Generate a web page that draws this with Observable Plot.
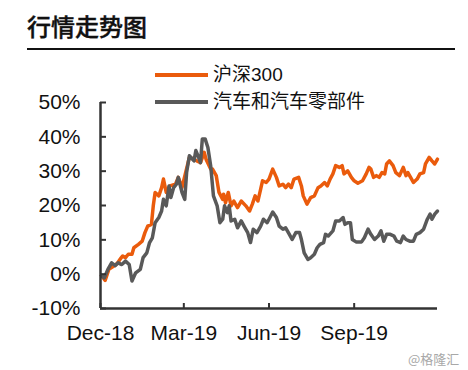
<!DOCTYPE html>
<html><head><meta charset="utf-8">
<script src="https://cdn.jsdelivr.net/npm/d3@7"></script>
<script src="https://cdn.jsdelivr.net/npm/@observablehq/plot@0.6"></script>
<style>
body{margin:0;background:#fff;}
#wrap{position:relative;width:468px;height:370px;overflow:hidden;background:#fff;}
#header{position:relative;width:468px;height:56px;}
#title{position:absolute;left:27px;top:9px;font:500 24px/34px "Noto Sans CJK SC",sans-serif;color:#111;-webkit-text-stroke:0.4px #111;}
#hrule{position:absolute;left:27px;top:48px;width:428px;height:2px;background:#111;}
.lg{position:absolute;left:155px;height:24px;display:flex;align-items:center;font:19px/24px "Liberation Sans","Noto Sans CJK SC",sans-serif;color:#111;white-space:nowrap;}
.lg span.sw{display:inline-block;width:53px;height:3.5px;margin-right:5px;}
#wm{position:absolute;left:408px;top:350px;font:13px/18px "Noto Sans CJK SC",sans-serif;color:#a8a8a8;}
</style>
</head><body>
<div id="wrap">
  <div id="header"><div id="title">行情走势图</div><div id="hrule"></div></div>
  <div id="chart"></div>
  <div class="lg" id="lg1" style="top:63px"><span class="sw" id="sw1"></span><span id="t1"></span></div>
  <div class="lg" id="lg2" style="top:90px"><span class="sw" id="sw2"></span><span id="t2"></span></div>
  <div id="wm">@格隆汇</div>
</div>
<script>
const seriesNames = ["沪深300", "汽车和汽车零部件"];
const seriesColors = ["#EA5B0C", "#595959"];

const hsDates = ["2018-12-02","2018-12-06","2018-12-10","2018-12-15","2018-12-19","2018-12-22","2018-12-25","2018-12-28","2018-12-31","2019-01-04","2019-01-06","2019-01-11","2019-01-15","2019-01-18","2019-01-21","2019-01-25","2019-01-27","2019-01-29","2019-02-02","2019-02-05","2019-02-07","2019-02-10","2019-02-14","2019-02-20","2019-02-23","2019-02-27","2019-03-03","2019-03-07","2019-03-12","2019-03-15","2019-03-19","2019-03-23","2019-03-25","2019-03-30","2019-04-01","2019-04-05","2019-04-08","2019-04-12","2019-04-13","2019-04-15","2019-04-18","2019-04-21","2019-04-24","2019-04-28","2019-05-02","2019-05-07","2019-05-11","2019-05-14","2019-05-17","2019-05-20","2019-05-23","2019-05-25","2019-05-29","2019-06-01","2019-06-05","2019-06-09","2019-06-12","2019-06-16","2019-06-19","2019-06-22","2019-06-25","2019-06-28","2019-07-03","2019-07-06","2019-07-08","2019-07-12","2019-07-16","2019-07-20","2019-07-24","2019-07-27","2019-07-31","2019-08-03","2019-08-06","2019-08-09","2019-08-12","2019-08-16","2019-08-19","2019-08-21","2019-08-25","2019-08-29","2019-09-01","2019-09-05","2019-09-10","2019-09-14","2019-09-17","2019-09-19","2019-09-22","2019-09-25","2019-09-28","2019-10-01","2019-10-04","2019-10-06","2019-10-09","2019-10-13","2019-10-16","2019-10-20","2019-10-24","2019-10-27","2019-10-29","2019-11-02","2019-11-04","2019-11-08","2019-11-11","2019-11-15","2019-11-17","2019-11-21","2019-11-24","2019-11-27","2019-11-30"];
const hsValues = [-0.4,-1.8,1.4,2.3,3.1,4.3,5.3,4.8,5.8,5.8,7.7,8.7,9.6,12.1,14.0,14.5,19.9,23.8,22.8,25.2,27.7,23.8,25.7,26.2,28.2,25.2,29.6,34.0,33.5,33.0,32.5,35.5,33.5,30.6,30.6,28.7,23.8,21.8,23.3,20.8,23.8,19.9,21.3,19.4,21.3,19.9,18.4,20.4,22.8,21.3,24.8,27.2,26.7,27.7,30.6,28.2,25.7,26.2,25.2,26.2,25.2,27.7,28.2,25.7,22.8,20.4,22.3,22.8,25.2,25.7,26.7,25.7,27.7,29.2,31.6,31.1,31.6,29.2,30.1,28.2,27.2,26.5,27.2,29.2,31.1,30.6,28.2,28.7,28.2,29.6,29.2,32.1,33.0,31.6,29.6,28.7,31.1,28.7,29.6,27.7,26.7,27.7,29.2,29.6,32.1,34.0,33.0,32.1,33.5];

const autoDates = ["2018-12-02","2018-12-05","2018-12-09","2018-12-13","2018-12-17","2018-12-20","2018-12-24","2018-12-28","2019-01-01","2019-01-04","2019-01-08","2019-01-13","2019-01-16","2019-01-20","2019-01-23","2019-01-26","2019-01-29","2019-02-02","2019-02-05","2019-02-07","2019-02-10","2019-02-13","2019-02-15","2019-02-18","2019-02-21","2019-02-23","2019-02-27","2019-03-02","2019-03-04","2019-03-07","2019-03-12","2019-03-14","2019-03-17","2019-03-19","2019-03-21","2019-03-24","2019-03-27","2019-03-30","2019-04-02","2019-04-06","2019-04-09","2019-04-12","2019-04-14","2019-04-17","2019-04-19","2019-04-21","2019-04-25","2019-04-28","2019-05-02","2019-05-05","2019-05-09","2019-05-12","2019-05-15","2019-05-19","2019-05-23","2019-05-26","2019-05-30","2019-06-01","2019-06-05","2019-06-09","2019-06-12","2019-06-16","2019-06-19","2019-06-23","2019-06-26","2019-06-30","2019-07-04","2019-07-06","2019-07-09","2019-07-13","2019-07-16","2019-07-20","2019-07-23","2019-07-26","2019-07-30","2019-08-01","2019-08-04","2019-08-09","2019-08-12","2019-08-16","2019-08-20","2019-08-22","2019-08-25","2019-08-28","2019-08-30","2019-09-03","2019-09-09","2019-09-12","2019-09-16","2019-09-19","2019-09-23","2019-09-27","2019-09-30","2019-10-03","2019-10-06","2019-10-10","2019-10-14","2019-10-17","2019-10-21","2019-10-24","2019-10-27","2019-10-31","2019-11-04","2019-11-07","2019-11-11","2019-11-15","2019-11-19","2019-11-22","2019-11-24","2019-11-27","2019-11-30"];
const autoValues = [-0.4,-1.1,1.4,3.3,2.5,3.3,2.8,3.8,2.8,-2.0,0.4,1.4,4.8,6.2,9.2,10.6,15.0,16.5,18.4,21.8,19.9,25.7,22.3,25.2,26.2,28.2,23.8,21.8,29.6,34.5,33.0,36.0,34.0,32.5,39.4,39.4,36.9,31.6,22.8,19.9,15.0,16.0,19.9,17.9,19.9,15.5,16.0,13.5,15.5,14.0,12.1,9.2,13.1,12.1,14.0,16.0,15.0,16.0,18.1,16.5,14.0,13.1,13.5,11.6,10.1,12.1,12.1,10.1,6.2,4.3,4.8,5.8,7.7,8.7,9.2,11.6,11.1,12.6,15.5,15.5,16.5,14.5,15.0,15.0,10.1,9.4,9.4,10.6,13.1,11.6,10.1,11.1,12.6,9.6,11.6,11.6,11.1,9.6,9.2,11.1,10.1,9.6,9.6,11.6,12.1,13.1,16.0,17.5,16.0,17.5,18.4];

const xDomain = ["2018-12-01", "2019-11-30"];
const xTickDates = ["2018-12-01", "2019-03-01", "2019-06-01", "2019-09-01"];
const xTickLabels = ["Dec-18", "Mar-19", "Jun-19", "Sep-19"];
const yTicks = [-10, 0, 10, 20, 30, 40, 50];

const parse = d3.utcParse("%Y-%m-%d");
const hs = hsDates.map((d, i) => ({date: parse(d), value: hsValues[i]}));
const auto = autoDates.map((d, i) => ({date: parse(d), value: autoValues[i]}));
const xs = xTickDates.map(parse);
const labelMap = new Map(xs.map((d, i) => [+d, xTickLabels[i]]));
const x0 = parse(xDomain[0]), x1 = parse(xDomain[1]);

const W = 468, H = 314, mL = 100, mR = 31, mT = 46, mB = 62;
const plotW = W - mL - mR, plotH = H - mT - mB;
const axisColor = "#333";

const chart = Plot.plot({
  width: W, height: H,
  marginLeft: mL, marginRight: mR, marginTop: mT, marginBottom: mB,
  style: {fontFamily: "'Liberation Sans', Arial, sans-serif", fontSize: "21px", color: "#111", background: "transparent", overflow: "visible"},
  x: {type: "utc", domain: [x0, x1], label: null},
  y: {domain: [-10, 50], label: null},
  marks: [
    Plot.line(hs, {x: "date", y: "value", stroke: seriesColors[0], strokeWidth: 3.5}),
    Plot.line(auto, {x: "date", y: "value", stroke: seriesColors[1], strokeWidth: 3.5}),
    Plot.ruleY([-10], {stroke: axisColor, strokeWidth: 2.5}),
    Plot.ruleX([x0], {stroke: axisColor, strokeWidth: 2.5}),
    Plot.tickY(yTicks, {y: d => d, stroke: axisColor, strokeWidth: 2, insetRight: plotW - 6}),
    Plot.tickX(xs, {x: d => d, stroke: axisColor, strokeWidth: 2, insetTop: plotH - 5}),
    Plot.axisY({ticks: yTicks, tickSize: 0, tickPadding: 20, label: null, tickFormat: d => d + "%"}),
    Plot.axisX({ticks: xs, tickSize: 0, tickPadding: 17, label: null, tickFormat: d => labelMap.get(+d)})
  ]
});
document.getElementById("chart").appendChild(chart);

document.getElementById("sw1").style.background = seriesColors[0];
document.getElementById("sw2").style.background = seriesColors[1];
document.getElementById("t1").textContent = seriesNames[0];
document.getElementById("t2").textContent = seriesNames[1];
</script>
</body></html>
